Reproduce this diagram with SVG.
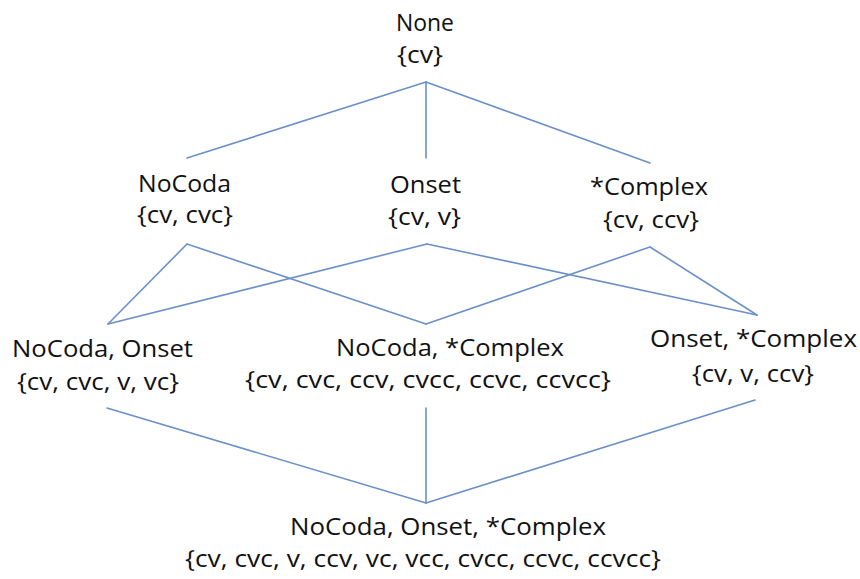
<svg xmlns="http://www.w3.org/2000/svg" width="860" height="579" viewBox="0 0 860 579">
<style>
text{font-family:"Open Sans","Noto Sans","DejaVu Sans",sans-serif;font-size:24px;fill:#111;}
.e{stroke:#6b90c9;stroke-width:1.6;fill:none;stroke-linecap:round;}
</style>
<rect width="860" height="579" fill="#fff"/>
<g id="connectors">
<line class="e" x1="426" y1="82" x2="187" y2="158"/>
<line class="e" x1="426" y1="82" x2="426" y2="158"/>
<line class="e" x1="426" y1="82" x2="650" y2="163"/>
<line class="e" x1="187" y1="244" x2="108" y2="324"/>
<line class="e" x1="187" y1="244" x2="426" y2="324"/>
<line class="e" x1="427" y1="244" x2="108" y2="324"/>
<line class="e" x1="427" y1="244" x2="757" y2="315"/>
<line class="e" x1="650" y1="247" x2="426" y2="324"/>
<line class="e" x1="650" y1="247" x2="757" y2="315"/>
<line class="e" x1="107" y1="408" x2="426" y2="503"/>
<line class="e" x1="426" y1="408" x2="426" y2="503"/>
<line class="e" x1="755" y1="400" x2="426" y2="503"/>
</g>
<g id="none">
<text x="396" y="31" textLength="58" lengthAdjust="spacingAndGlyphs">None</text>
<text x="397" y="63" textLength="46" lengthAdjust="spacingAndGlyphs">{cv}</text>
</g>
<g id="nocoda">
<text x="138" y="192" textLength="93" lengthAdjust="spacingAndGlyphs">NoCoda</text>
<text x="137" y="223" textLength="96" lengthAdjust="spacingAndGlyphs">{cv, cvc}</text>
</g>
<g id="onset">
<text x="390" y="193" textLength="71" lengthAdjust="spacingAndGlyphs">Onset</text>
<text x="388" y="225" textLength="73" lengthAdjust="spacingAndGlyphs">{cv, v}</text>
</g>
<g id="complex">
<text x="590" y="195" textLength="118" lengthAdjust="spacingAndGlyphs">*Complex</text>
<text x="603" y="228" textLength="96" lengthAdjust="spacingAndGlyphs">{cv, ccv}</text>
</g>
<g id="nocoda-onset">
<text x="12" y="357" textLength="181" lengthAdjust="spacingAndGlyphs">NoCoda, Onset</text>
<text x="17" y="390" textLength="162" lengthAdjust="spacingAndGlyphs">{cv, cvc, v, vc}</text>
</g>
<g id="nocoda-complex">
<text x="336" y="356" textLength="228" lengthAdjust="spacingAndGlyphs">NoCoda, *Complex</text>
<text x="245" y="388" textLength="366" lengthAdjust="spacingAndGlyphs">{cv, cvc, ccv, cvcc, ccvc, ccvcc}</text>
</g>
<g id="onset-complex">
<text x="650" y="347" textLength="207" lengthAdjust="spacingAndGlyphs">Onset, *Complex</text>
<text x="692" y="382" textLength="122" lengthAdjust="spacingAndGlyphs">{cv, v, ccv}</text>
</g>
<g id="all">
<text x="290" y="535" textLength="316" lengthAdjust="spacingAndGlyphs">NoCoda, Onset, *Complex</text>
<text x="185" y="567" textLength="476" lengthAdjust="spacingAndGlyphs">{cv, cvc, v, ccv, vc, vcc, cvcc, ccvc, ccvcc}</text>
</g>
</svg>
